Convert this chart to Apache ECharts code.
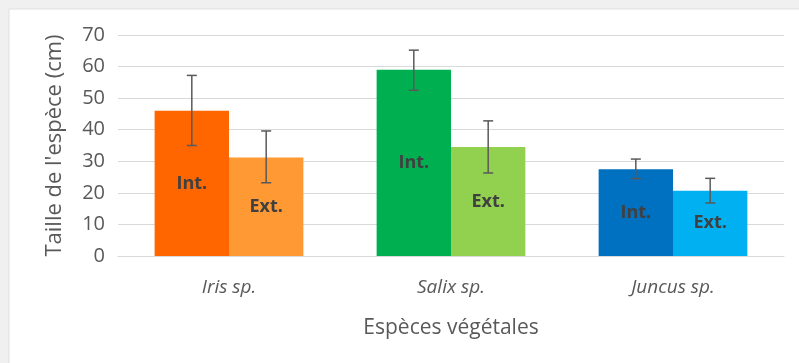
<!DOCTYPE html>
<html>
<head>
<meta charset="utf-8">
<script src="https://cdn.jsdelivr.net/npm/echarts@6/dist/echarts.min.js"></script>
<style>
  html, body { margin: 0; padding: 0; background: #f0f0f0; }
  #chart { width: 799px; height: 363px; }
</style>
</head>
<body>
<div id="chart"></div>
<script>
const categories = ['Iris sp.', 'Salix sp.', 'Juncus sp.'];
const intValues = [46, 59, 27.5];
const extValues = [31.2, 34.5, 20.7];
const intLow = [35, 52.5, 24.5];
const intHigh = [57.2, 65.2, 30.7];
const extLow = [23.2, 26.3, 16.8];
const extHigh = [39.6, 42.8, 24.6];
const intColors = ['#ff6600', '#00b050', '#0070c0'];
const extColors = ['#ff9933', '#92d050', '#00b0f0'];
const yTicks = { min: 0, max: 70, interval: 10 };

const font = '"Open Sans", "Liberation Sans", sans-serif';
const textGrey = '#595959';
const gridGrey = '#d9d9d9';
const barFrac = 0.335;

const errorSeries = (low, high, side) => ({
  type: 'custom',
  z: 5,
  silent: true,
  data: low.map((l, i) => [i, l, high[i]]),
  renderItem: (params, api) => {
    const band = api.size([1, 0])[0];
    const off = side * band * barFrac / 2;
    const top = api.coord([api.value(0), api.value(2)]);
    const bot = api.coord([api.value(0), api.value(1)]);
    const x = top[0] + off;
    const cap = 5;
    const style = { stroke: '#595959', lineWidth: 1.5 };
    return {
      type: 'group',
      children: [
        { type: 'line', shape: { x1: x, y1: top[1], x2: x, y2: bot[1] }, style },
        { type: 'line', shape: { x1: x - cap, y1: top[1], x2: x + cap, y2: top[1] }, style },
        { type: 'line', shape: { x1: x - cap, y1: bot[1], x2: x + cap, y2: bot[1] }, style }
      ]
    };
  }
});

const barLabel = (text) => ({
  show: true,
  position: 'inside',
  formatter: text,
  color: '#404040',
  fontFamily: font,
  fontWeight: 'bold',
  fontSize: 18
});

const chart = echarts.init(document.getElementById('chart'));
chart.setOption({
  backgroundColor: '#f0f0f0',
  animation: false,
  graphic: [{
    type: 'rect',
    z: -10,
    silent: true,
    shape: { x: 9, y: 9, width: 800, height: 360 },
    style: { fill: '#ffffff', stroke: '#e0e0e0', lineWidth: 1 }
  }],
  grid: { left: 118, right: 15, top: 35, bottom: 107 },
  xAxis: {
    type: 'category',
    data: categories,
    name: 'Espèces végétales',
    nameLocation: 'middle',
    nameGap: 62,
    nameTextStyle: { color: textGrey, fontFamily: font, fontSize: 21 },
    axisLine: { lineStyle: { color: gridGrey } },
    axisTick: { show: false },
    axisLabel: { color: textGrey, fontFamily: font, fontSize: 19, fontStyle: 'italic', margin: 22 }
  },
  yAxis: {
    type: 'value',
    min: yTicks.min,
    max: yTicks.max,
    interval: yTicks.interval,
    name: "Taille de l'espèce (cm)",
    nameLocation: 'middle',
    nameGap: 52,
    nameTextStyle: { color: textGrey, fontFamily: font, fontSize: 22 },
    axisLine: { show: false },
    axisTick: { show: false },
    axisLabel: { color: textGrey, fontFamily: font, fontSize: 20, margin: 13 },
    splitLine: { lineStyle: { color: gridGrey } }
  },
  series: [
    {
      name: 'Int.',
      type: 'bar',
      barGap: '0%',
      barCategoryGap: '33%',
      data: intValues.map((v, i) => ({ value: v, itemStyle: { color: intColors[i] } })),
      label: barLabel('Int.')
    },
    {
      name: 'Ext.',
      type: 'bar',
      data: extValues.map((v, i) => ({ value: v, itemStyle: { color: extColors[i] } })),
      label: barLabel('Ext.')
    },
    errorSeries(intLow, intHigh, -1),
    errorSeries(extLow, extHigh, 1)
  ]
});
</script>
</body>
</html>
